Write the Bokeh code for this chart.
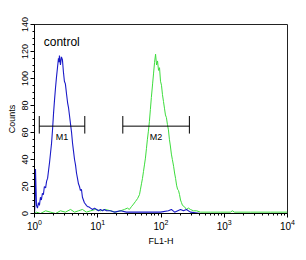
from bokeh.plotting import figure
from bokeh.models import FixedTicker, Label, ColumnDataSource
from bokeh.embed import file_html
from bokeh.resources import INLINE

# ---- data (channel = 1024-channel log scale over 4 decades) ----
blue_channel = [0, 2, 4, 6, 8, 12, 16, 20, 24, 28, 32, 36, 40, 45, 49, 53, 57, 61, 65, 69,
                73, 77, 81, 85, 89, 93, 97, 99, 101, 105, 109, 113, 117, 121, 125, 130,
                134, 138, 142, 146, 150, 154, 158, 162, 166, 170, 174, 178, 182, 186, 190,
                194, 198, 202, 206, 210, 215, 219, 227, 235, 243, 251, 259, 267, 275, 283,
                291, 308, 324, 348, 372, 397, 429, 469, 510, 542, 554, 567, 591, 603, 615,
                631, 672]
blue_counts = [0, 8, 33, 20, 6, 4, 8, 6, 12, 10, 15, 14, 20, 19, 24, 26, 32, 38, 45, 52,
               62, 74, 84, 93, 101, 108, 115, 112, 117, 110, 116, 114, 105, 98, 96, 88,
               82, 78, 72, 66, 60, 52, 46, 40, 36, 30, 26, 22, 20, 17, 18,
               12, 10, 8, 7, 6, 5, 5, 4, 3, 4, 3, 2, 3, 2, 3,
               2, 2, 1, 2, 1, 1, 1, 1, 1, 2, 3, 1, 3, 2, 3,
               1, 0]

green_channel = [0, 8, 24, 45, 65, 85, 105, 125, 146, 162, 178, 194, 210, 227, 247, 267,
                 287, 308, 328, 348, 364, 376, 384, 392, 401, 409, 417, 425, 429, 433, 437,
                 441, 445, 449, 453, 457, 461, 465, 469, 473, 478, 482, 486, 490, 494, 498,
                 502, 506, 510, 514, 518, 522, 526, 530, 534, 538, 542, 546, 550, 554, 558,
                 563, 567, 571, 575, 579, 583, 587, 591, 595, 599, 607, 615, 623, 631, 643,
                 656, 672, 712, 753, 793, 801, 809, 874, 955, 1023]
green_counts = [0, 1, 0, 2, 1, 0, 2, 1, 3, 1, 2, 3, 1, 2, 3, 2,
                3, 2, 1, 2, 3, 4, 3, 5, 7, 9, 11, 14, 18, 22, 26,
                31, 36, 41, 48, 55, 61, 68, 77, 86, 96, 104, 112, 118, 110, 113,
                106, 108, 98, 95, 88, 83, 78, 73, 71, 66, 62, 55, 50, 44, 40,
                35, 30, 26, 21, 18, 17, 14, 10, 8, 6, 5, 3, 4, 3, 2,
                2, 1, 1, 1, 1, 2, 1, 1, 1, 1]

marker_names = ["M1", "M2"]
marker_start = [1.19, 24.9]
marker_end = [6.24, 281.0]
marker_level = 64.7

x_ticks = [1, 10, 100, 1000, 10000]
x_minor = [2, 3, 4, 5, 6, 7, 8, 9, 20, 30, 40, 50, 60, 70, 80, 90,
           200, 300, 400, 500, 600, 700, 800, 900, 2000, 3000, 4000, 5000, 6000, 7000, 8000, 9000]
y_ticks = [0, 20, 40, 60, 80, 100, 120, 140]

FONT = "Liberation Sans"

p = figure(width=306, height=260, x_axis_type="log", x_range=(1, 10000), y_range=(0, 140),
           output_backend="svg", toolbar_location=None,
           min_border_left=34, min_border_right=19, min_border_top=24, min_border_bottom=47,
           x_axis_label="FL1-H", y_axis_label="Counts")
p.xgrid.visible = False
p.ygrid.visible = False
p.outline_line_color = "#222222"
p.background_fill_color = "white"
p.border_fill_color = "white"

p.xaxis.ticker = FixedTicker(ticks=x_ticks, minor_ticks=x_minor)
p.yaxis.ticker = FixedTicker(ticks=y_ticks, minor_ticks=list(range(0, 141, 5)))
p.yaxis.major_label_orientation = "vertical"

for ax in (p.xaxis[0], p.yaxis[0]):
    ax.axis_line_color = "black"
    ax.major_tick_line_color = "black"
    ax.minor_tick_line_color = "black"
    ax.major_tick_in = 0
    ax.major_tick_out = 4
    ax.minor_tick_in = 0
    ax.minor_tick_out = 2
    ax.major_label_text_font = FONT
    ax.major_label_text_font_size = "9px"
    ax.major_label_text_color = "black"
    ax.axis_label_text_font = FONT
    ax.axis_label_text_font_size = "9px"
    ax.axis_label_text_font_style = "normal"
    ax.axis_label_text_color = "black"
p.xaxis.major_label_text_font_size = "10px"
p.yaxis.major_label_standoff = 3
p.yaxis.axis_label_standoff = 2
p.xaxis.major_label_standoff = 1
p.xaxis.axis_label_standoff = 3

green_src = ColumnDataSource(dict(x=[10 ** (c / 256) for c in green_channel], y=green_counts))
blue_src = ColumnDataSource(dict(x=[10 ** (c / 256) for c in blue_channel], y=blue_counts))
p.line("x", "y", source=green_src, line_color="#3ddc3d", line_width=1)
p.line("x", "y", source=blue_src, line_color="#1a1ac8", line_width=1.1)

# gate markers
p.segment(x0=marker_start, y0=[marker_level] * 2, x1=marker_end, y1=[marker_level] * 2,
          line_color="black", line_width=1)
p.segment(x0=marker_start, y0=[marker_level - 5.5] * 2, x1=marker_start, y1=[marker_level + 7.5] * 2,
          line_color="black", line_width=1)
p.segment(x0=marker_end, y0=[marker_level - 5.5] * 2, x1=marker_end, y1=[marker_level + 7.5] * 2,
          line_color="black", line_width=1)
for name, s, e in zip(marker_names, marker_start, marker_end):
    mid = (s * e) ** 0.5
    p.add_layout(Label(x=mid, y=marker_level - 4, text=name, text_align="center",
                       text_baseline="top", text_font=FONT, text_font_size="9px",
                       text_color="black"))

p.add_layout(Label(x=1.40, y=126.9, text="control", text_align="left", text_baseline="middle",
                   text_font=FONT, text_font_size="12px", text_color="black"))

open("out.html", "w").write(file_html(p, INLINE))
